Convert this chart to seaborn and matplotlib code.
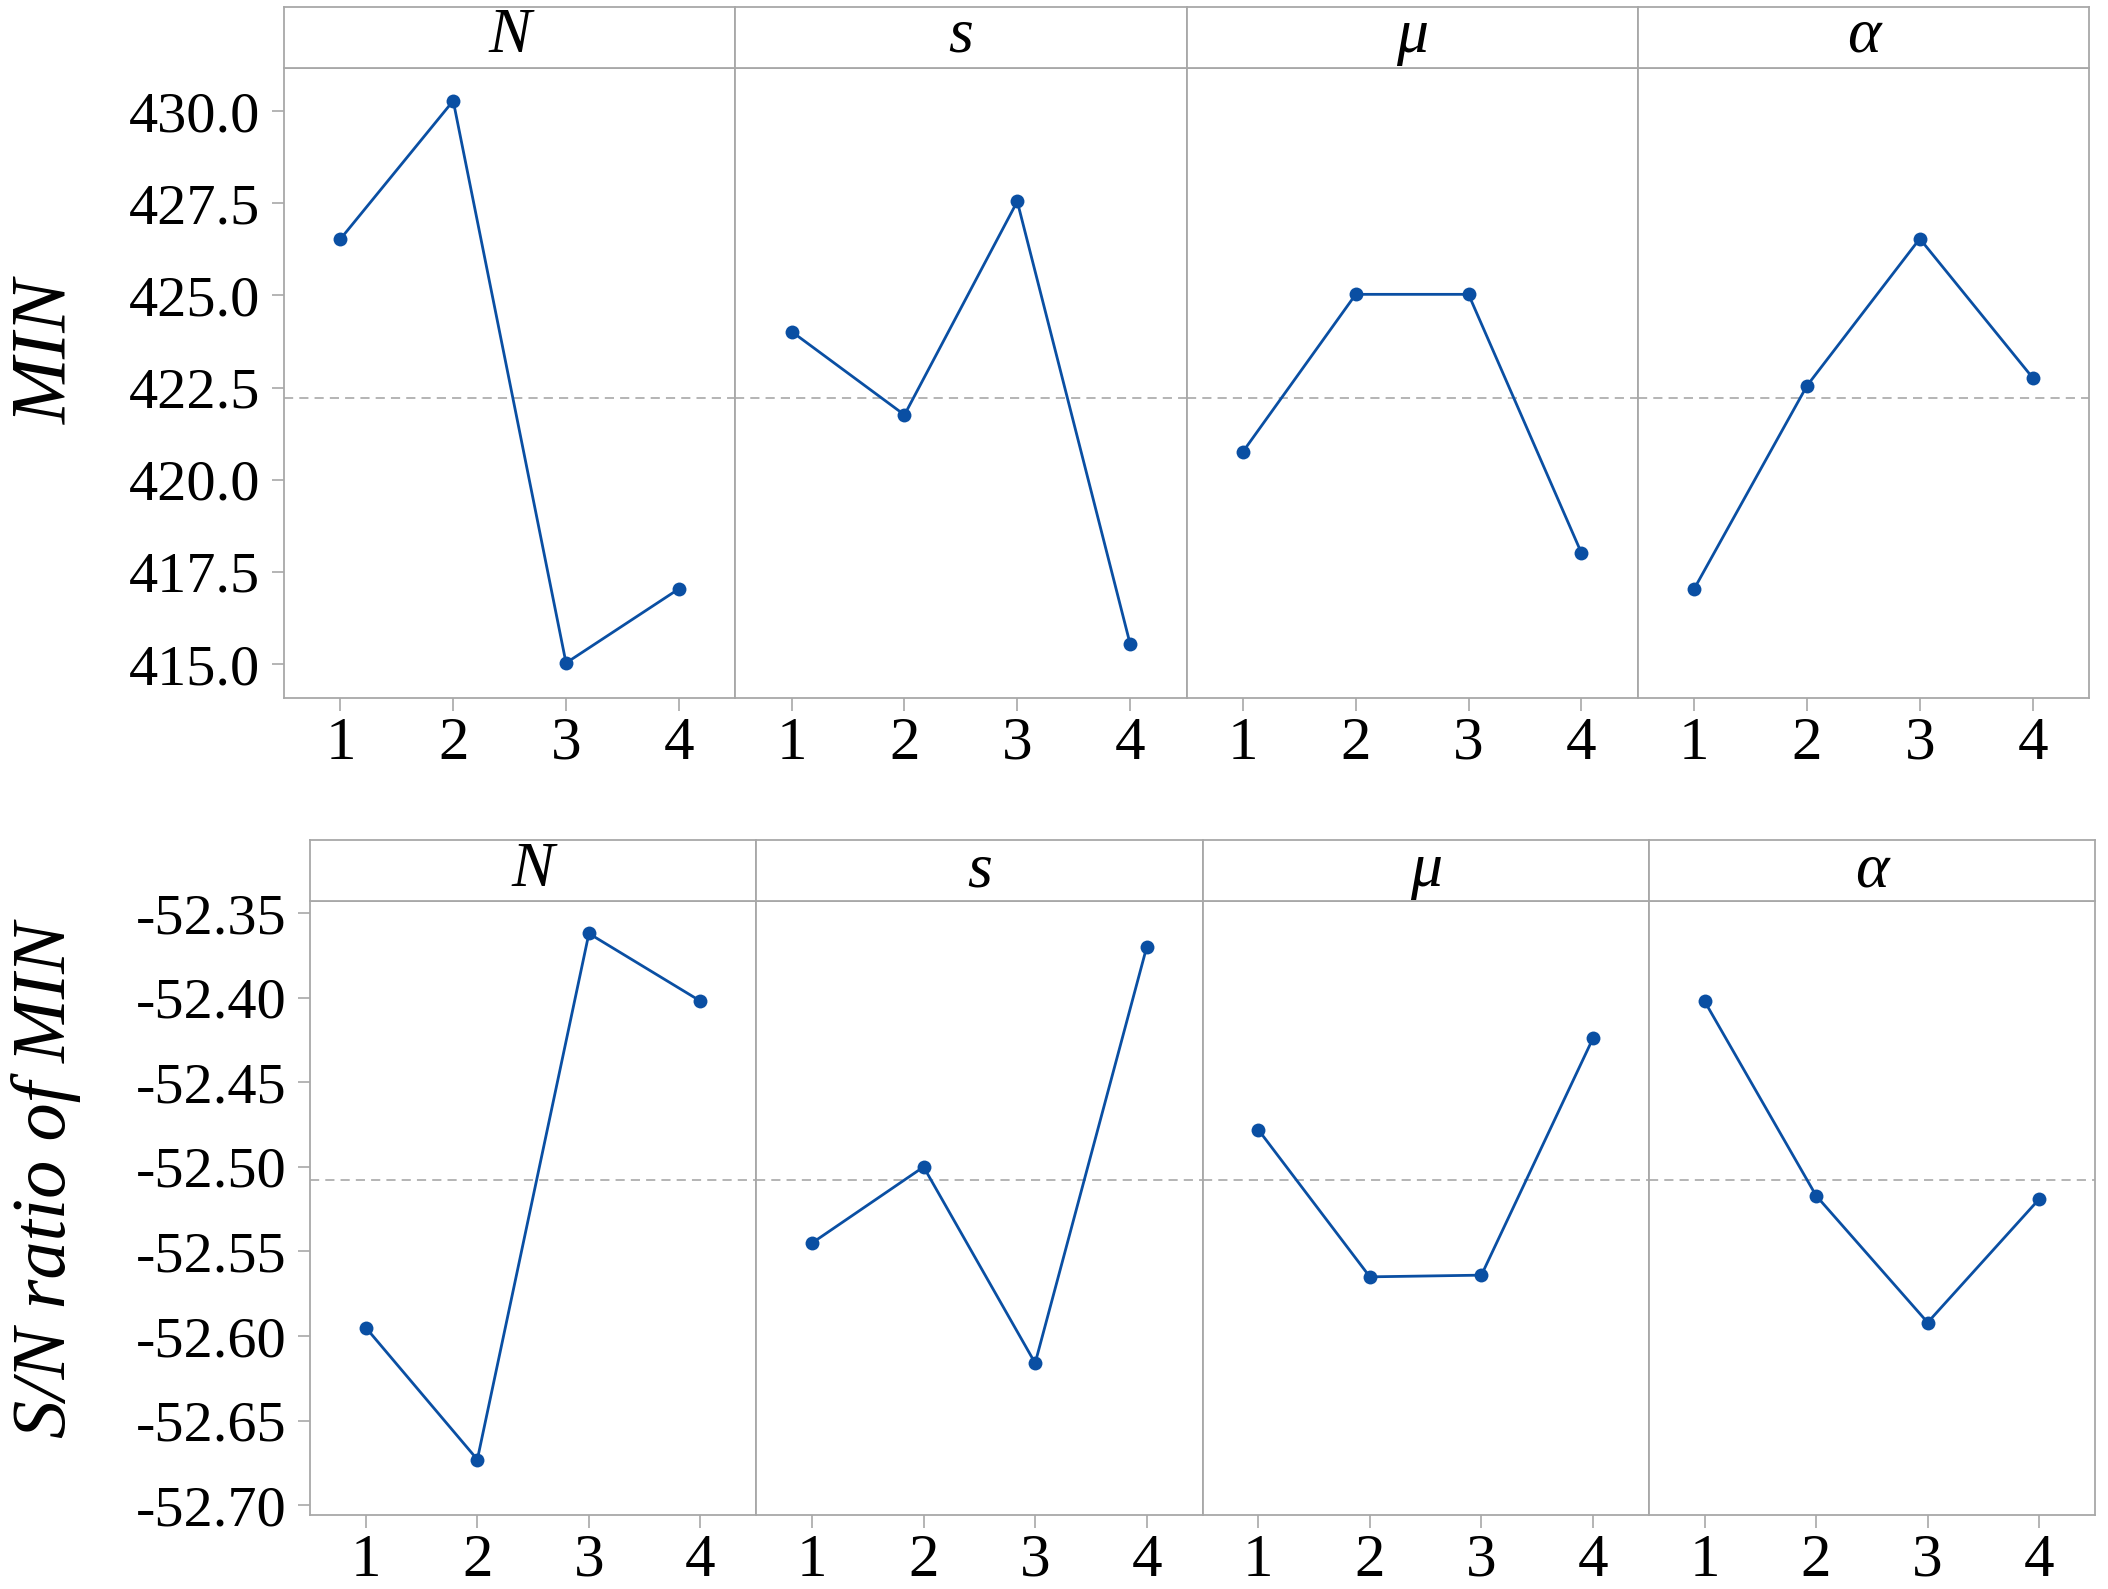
import numpy as np
import pandas as pd
import matplotlib
matplotlib.use("Agg")
import matplotlib.pyplot as plt
import seaborn as sns
from matplotlib.ticker import FixedLocator, FormatStrFormatter

# ---------------- data ----------------
factors = ["N", "s", "μ", "α"]
levels = [1, 2, 3, 4]

min_N = [426.53, 430.28, 415.03, 417.04]
min_s = [424.02, 421.76, 427.55, 415.55]
min_mu = [420.76, 425.03, 425.03, 418.02]
min_alpha = [417.04, 422.55, 426.54, 422.77]

sn_N = [-52.595, -52.673, -52.362, -52.402]
sn_s = [-52.545, -52.500, -52.616, -52.370]
sn_mu = [-52.478, -52.565, -52.564, -52.424]
sn_alpha = [-52.402, -52.517, -52.592, -52.519]

min_ticks = [415.0, 417.5, 420.0, 422.5, 425.0, 427.5, 430.0]
sn_ticks = [-52.70, -52.65, -52.60, -52.55, -52.50, -52.45, -52.40, -52.35]

ylabel_min = "MIN"
ylabel_sn = "S/N ratio of MIN"

rows = []
for resp, series in (("MIN", [min_N, min_s, min_mu, min_alpha]),
                     ("SN", [sn_N, sn_s, sn_mu, sn_alpha])):
    for f, vals in zip(factors, series):
        for lv, v in zip(levels, vals):
            rows.append({"response": resp, "factor": f, "level": lv, "value": v})
df = pd.DataFrame(rows)

# ---------------- style ----------------
sns.set_theme(style="white")
plt.rcParams["font.family"] = ["Liberation Serif", "DejaVu Serif"]
plt.rcParams["axes.unicode_minus"] = False

BLUE = "#0A4FA3"
GRAY = "#A8A8A8"
MEAN_GRAY = "#A0A0A0"

W, H = 2108, 1589
fig = plt.figure(figsize=(W / 100, H / 100), dpi=100)
fig.patch.set_facecolor("white")


def px_axes(x0, y0, x1, y1):
    return fig.add_axes([x0 / W, 1 - y1 / H, (x1 - x0) / W, (y1 - y0) / H])


rows_cfg = [
    dict(resp="MIN", left=284, right=2089, st=7, sb=68, ab=698,
         ylim=(414.08, 431.17), ticks=min_ticks, fmt="%.1f",
         ylabel=ylabel_min, ylab_y=352, ylab_size=57, strip_base=0.27),
    dict(resp="SN", left=310, right=2095, st=840, sb=901, ab=1515,
         ylim=(-52.7058, -52.3428), ticks=sn_ticks, fmt="%.2f",
         ylabel=ylabel_sn, ylab_y=1180, ylab_size=55, strip_base=0.24),
]

for cfg in rows_cfg:
    sub_resp = df[df["response"] == cfg["resp"]]
    grand_mean = sub_resp["value"].mean()
    pw = (cfg["right"] - cfg["left"]) / 4.0
    for i, f in enumerate(factors):
        x0 = cfg["left"] + i * pw
        x1 = x0 + pw
        ax = px_axes(x0, cfg["sb"], x1, cfg["ab"])
        strip = px_axes(x0, cfg["st"], x1, cfg["sb"])

        sub = sub_resp[sub_resp["factor"] == f]
        ax.axhline(grand_mean, color=MEAN_GRAY, lw=1.1, ls=(0, (6, 4)), zorder=1)
        sns.lineplot(data=sub, x="level", y="value", ax=ax, color=BLUE,
                     lw=2.0, marker="o", markersize=10, markeredgewidth=0,
                     errorbar=None, sort=False, zorder=3)
        ax.set_xlim(0.5, 4.5)
        ax.set_ylim(*cfg["ylim"])
        ax.xaxis.set_major_locator(FixedLocator(levels))
        ax.set_xticklabels([str(l) for l in levels])
        ax.set_xlabel("")
        ax.set_ylabel("")
        for sp in ax.spines.values():
            sp.set_color(GRAY)
            sp.set_linewidth(1.3)
        ax.tick_params(axis="x", which="major", bottom=True, length=9, width=1.2,
                       color=GRAY, labelsize=44, pad=4, labelcolor="black")
        if i == 0:
            ax.yaxis.set_major_locator(FixedLocator(cfg["ticks"]))
            ax.yaxis.set_major_formatter(FormatStrFormatter(cfg["fmt"]))
            ax.tick_params(axis="y", which="major", left=True, length=9, width=1.2,
                           color=GRAY, labelsize=42, pad=8, labelcolor="black")
        else:
            ax.set_yticks([])
        ax.set_facecolor("white")

        strip.set_xticks([])
        strip.set_yticks([])
        for sp in strip.spines.values():
            sp.set_color(GRAY)
            sp.set_linewidth(1.3)
        strip.set_facecolor("white")
        strip.text(0.5, cfg["strip_base"], f, transform=strip.transAxes,
                   ha="center", va="baseline", fontsize=46, fontstyle="italic",
                   color="black")

    fig.text(65 / W, 1 - cfg["ylab_y"] / H, cfg["ylabel"], rotation=90,
             rotation_mode="anchor", ha="center", va="baseline",
             fontsize=cfg["ylab_size"], fontstyle="italic", color="black")

fig.savefig("out.png", dpi=100, facecolor="white")
